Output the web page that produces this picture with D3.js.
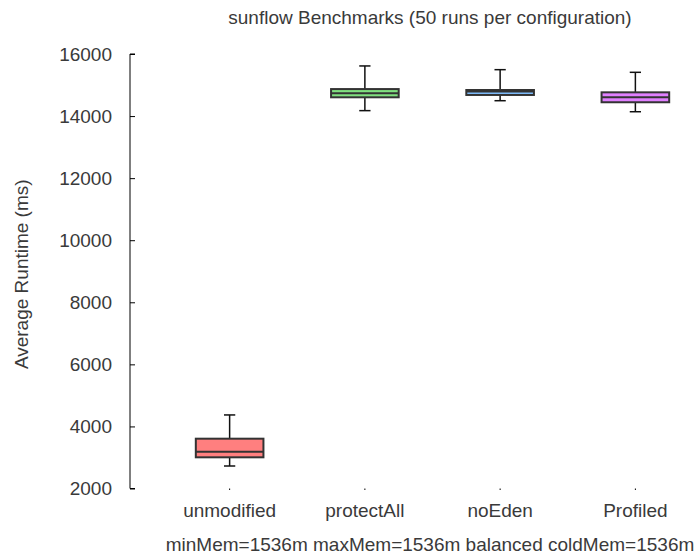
<!DOCTYPE html>
<html>
<head>
<meta charset="utf-8">
<script src="https://cdn.jsdelivr.net/npm/d3@7"></script>
<style>
  body { margin: 0; background: #fff; }
  text { font-family: "Liberation Sans", Arial, sans-serif; fill: #3a3a3a; }
</style>
</head>
<body>
<div id="chart"></div>
<script>
// data
const categories = ["unmodified", "protectAll", "noEden", "Profiled"];
const subLabels = ["minMem=1536m", "maxMem=1536m", "balanced", "coldMem=1536m"];
const whiskerLow = [2725, 14175, 14495, 14140];
const q1 = [3005, 14605, 14680, 14445];
const medians = [3185, 14735, 14790, 14605];
const q3 = [3605, 14870, 14840, 14765];
const whiskerHigh = [4370, 15615, 15495, 15410];
const fills = ["#ff7f7f", "#80e080", "#80bfff", "#e080ff"];
const yTicks = [2000, 4000, 6000, 8000, 10000, 12000, 14000, 16000];

const width = 698, height = 559;
const fontSize = 19;

const svg = d3.select("#chart").append("svg")
    .attr("width", width)
    .attr("height", height);

const x = d3.scaleBand().domain(categories).range([162, 703]).padding(0);
const y = d3.scaleLinear().domain([2000, 16000]).range([488.5, 54]);
const plotCenter = 430;

const boxes = categories.map((c, i) => ({
    name: c, lo: whiskerLow[i], q1: q1[i], med: medians[i], q3: q3[i], hi: whiskerHigh[i], fill: fills[i]
}));

// y axis, ticks pointing inward
const yAxis = svg.append("g")
    .attr("transform", "translate(130,0)")
    .call(d3.axisRight(y).tickValues(yTicks).tickSize(5).tickFormat(d3.format("d")));
yAxis.select(".domain").attr("d", `M5,${y(2000)}H0V${y(16000)}H5`).attr("stroke", "#000");
yAxis.selectAll(".tick line").attr("stroke", "#000");
yAxis.selectAll(".tick text")
    .attr("x", -18)
    .attr("text-anchor", "end")
    .attr("font-size", fontSize)
    .style("font-family", "'Liberation Sans', Arial, sans-serif")
    .attr("fill", "#3a3a3a");

// x axis: no line, tiny tick dots
const xAxis = svg.append("g")
    .attr("transform", `translate(0,${y(2000)})`)
    .call(d3.axisBottom(x).tickSize(1.5).tickSizeOuter(0));
xAxis.select(".domain").remove();
xAxis.selectAll(".tick line").attr("stroke", "#000");
xAxis.selectAll(".tick text")
    .attr("y", 517 - y(2000))
    .attr("dy", 0)
    .attr("font-size", fontSize)
    .style("font-family", "'Liberation Sans', Arial, sans-serif")
    .attr("fill", "#3a3a3a");

// second row of labels, one line centred under the plot
svg.append("text")
    .attr("x", plotCenter)
    .attr("y", 551)
    .attr("text-anchor", "middle")
    .attr("font-size", fontSize)
    .text(subLabels.join(" "));

// boxes
const boxW = x.bandwidth() / 2;
const capW = boxW / 6;
const g = svg.append("g").selectAll("g")
    .data(boxes)
    .join("g")
    .attr("transform", d => `translate(${x(d.name) + x.bandwidth() / 2},0)`);

g.append("line")
    .attr("x1", 0).attr("x2", 0)
    .attr("y1", d => y(d.hi)).attr("y2", d => y(d.q3))
    .attr("stroke", "#111").attr("stroke-width", 1.5);
g.append("line")
    .attr("x1", 0).attr("x2", 0)
    .attr("y1", d => y(d.q1)).attr("y2", d => y(d.lo))
    .attr("stroke", "#111").attr("stroke-width", 1.5);
g.append("line")
    .attr("x1", -capW / 2).attr("x2", capW / 2)
    .attr("y1", d => y(d.hi)).attr("y2", d => y(d.hi))
    .attr("stroke", "#111").attr("stroke-width", 1.5);
g.append("line")
    .attr("x1", -capW / 2).attr("x2", capW / 2)
    .attr("y1", d => y(d.lo)).attr("y2", d => y(d.lo))
    .attr("stroke", "#111").attr("stroke-width", 1.5);

g.append("rect")
    .attr("x", -boxW / 2)
    .attr("width", boxW)
    .attr("y", d => y(d.q3))
    .attr("height", d => y(d.q1) - y(d.q3))
    .attr("fill", d => d.fill)
    .attr("stroke", "#333")
    .attr("stroke-width", 2);

g.append("line")
    .attr("x1", -boxW / 2).attr("x2", boxW / 2)
    .attr("y1", d => y(d.med)).attr("y2", d => y(d.med))
    .attr("stroke", "#333").attr("stroke-width", 2);

// title
svg.append("text")
    .attr("x", plotCenter)
    .attr("y", 24)
    .attr("text-anchor", "middle")
    .attr("font-size", fontSize)
    .text("sunflow Benchmarks (50 runs per configuration)");

// y label
svg.append("text")
    .attr("transform", `translate(28,${(y(2000) + y(16000)) / 2 + 3}) rotate(-90)`)
    .attr("text-anchor", "middle")
    .attr("font-size", fontSize)
    .text("Average Runtime (ms)");
</script>
</body>
</html>
